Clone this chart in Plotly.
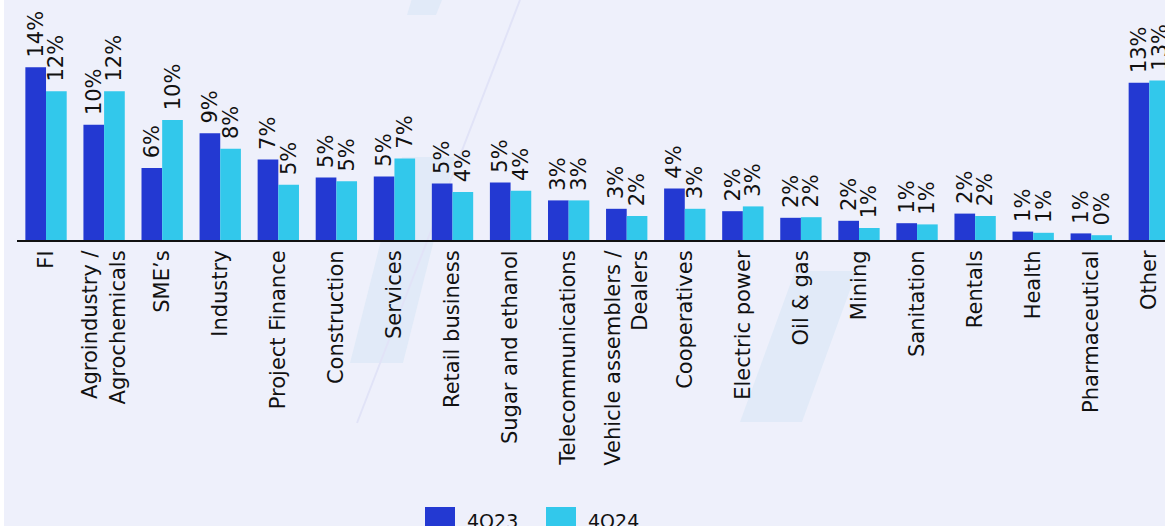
import plotly.graph_objects as go

# Loan portfolio share by sector, in percent
categories = [
    "FI", "Agroindustry /<br>Agrochemicals", "SME\u2019s", "Industry", "Project Finance",
    "Construction", "Services", "Retail business", "Sugar and ethanol",
    "Telecommunications", "Vehicle assemblers /<br>Dealers", "Cooperatives",
    "Electric power", "Oil & gas", "Mining", "Sanitation", "Rentals", "Health",
    "Pharmaceutical", "Other",
]
share_4q23 = [14.4, 9.6, 6.0, 8.9, 6.7, 5.2, 5.3, 4.7, 4.8, 3.3,
              2.6, 4.3, 2.4, 1.85, 1.6, 1.4, 2.2, 0.7, 0.55, 13.1]
share_4q24 = [12.4, 12.4, 10.0, 7.6, 4.6, 4.9, 6.8, 4.0, 4.1, 3.3,
              2.0, 2.6, 2.8, 1.9, 1.0, 1.3, 2.0, 0.6, 0.4, 13.3]
series_names = ["4Q23", "4Q24"]
series_colors = ["#2339D2", "#32C8EB"]

BG = "#EEF0FB"
MARK_FILL = "#E1EAF8"
MARK_LINE = "#E1E3F7"
FONT = "DejaVu Sans"

W, H = 1165, 526
L, T, PH = 17, 0, 240          # plot-area left edge, top, height in px
PW = W - L

fig = go.Figure()
for name, vals, col in zip(series_names, [share_4q23, share_4q24], series_colors):
    fig.add_trace(go.Bar(
        x=categories, y=vals, name=name,
        marker=dict(color=col, line=dict(width=0)),
        texttemplate="\u00a0%{y:.0f}%", textposition="outside",
        textangle=-90, cliponaxis=False, constraintext="none",
        textfont=dict(family=FONT, size=21, color="#111111"),
        showlegend=False,
    ))

# pixel -> paper helpers for decorations
def px(x):
    return (x - L) / PW

def py(y):
    return (T + PH - y) / PH

def poly(points):
    return "M " + " L ".join(f"{px(x):.5f},{py(y):.5f}" for x, y in points) + " Z"

shapes = [
    # thin white strip on the left edge
    dict(type="rect", xref="paper", yref="paper", x0=px(0), x1=px(4), y0=py(526), y1=py(0),
         fillcolor="white", line=dict(width=0), layer="below"),
    # faint background logo strokes
    dict(type="path", xref="paper", yref="paper",
         path=poly([(350, 363), (403, 363), (455, 157), (402, 157)]),
         fillcolor=MARK_FILL, line=dict(width=0), layer="below"),
    dict(type="path", xref="paper", yref="paper",
         path=poly([(740, 422), (802, 422), (857, 271), (795, 271)]),
         fillcolor=MARK_FILL, line=dict(width=0), layer="below"),
    dict(type="path", xref="paper", yref="paper",
         path=poly([(407, 15), (436, 15), (444, -5), (413, -5)]),
         fillcolor=MARK_FILL, line=dict(width=0), layer="below"),
    dict(type="line", xref="paper", yref="paper",
         x0=px(520), y0=py(0), x1=px(357), y1=py(423),
         line=dict(color=MARK_LINE, width=2), layer="below"),
]
annotations = []
# legend: square swatches with labels beneath the axis labels
legend_x = [425, 546]
for name, col, x in zip(series_names, series_colors, legend_x):
    shapes.append(dict(type="rect", xref="paper", yref="paper",
                       x0=px(x), x1=px(x + 30), y0=py(537), y1=py(507),
                       fillcolor=col, line=dict(width=0)))
    annotations.append(dict(xref="paper", yref="paper", x=px(x + 40), y=py(521),
                            text=name, showarrow=False, xanchor="left", yanchor="middle",
                            font=dict(family=FONT, size=19, color="#111111")))

fig.update_layout(
    width=W, height=H,
    margin=dict(l=L, r=0, t=T, b=H - T - PH, pad=0),
    paper_bgcolor=BG, plot_bgcolor=BG,
    barmode="group", bargap=0.288, bargroupgap=0,
    shapes=shapes, annotations=annotations,
    font=dict(family=FONT, color="#111111"),
)
fig.update_xaxes(
    range=[-0.5, 19.27], tickangle=-90, showgrid=False, ticks="",
    showline=True, linecolor="#111111", linewidth=2,
    tickfont=dict(family=FONT, size=21, color="#111111"),
)
fig.update_yaxes(range=[0, 20], visible=False, showgrid=False, zeroline=False)

fig.write_html("out.html")
